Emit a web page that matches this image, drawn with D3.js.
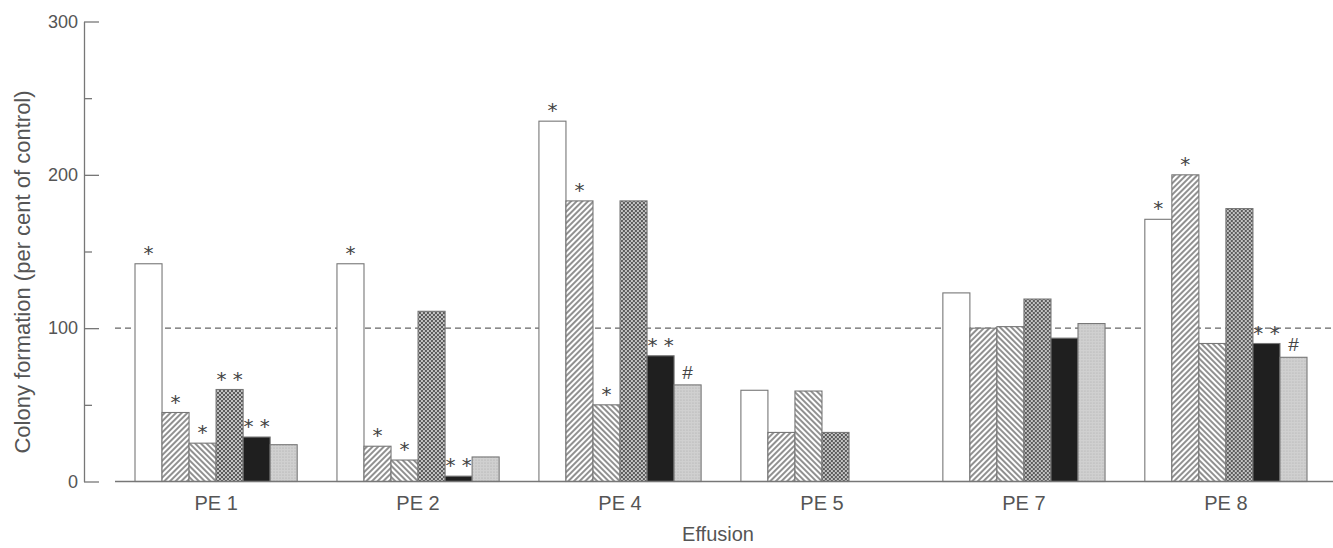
<!DOCTYPE html>
<html>
<head>
<meta charset="utf-8">
<script src="https://cdn.jsdelivr.net/npm/d3@7"></script>
<style>
  body { margin: 0; background: #fff; }
  svg { display: block; font-family: "Liberation Sans", Arial, sans-serif; }
</style>
</head>
<body>
<div id="chart"></div>
<script>
const width = 1333;
const height = 548;

// effusions along the x axis
const effusions = ["PE 1", "PE 2", "PE 4", "PE 5", "PE 7", "PE 8"];

// colony formation, per cent of control, one array per treatment (null = not tested)
const treatment1 = [142, 142, 235, 59.5, 123, 171];
const treatment2 = [45, 23, 183, 32, 100, 200];
const treatment3 = [25, 14, 50, 59, 101, 90];
const treatment4 = [60, 111, 183, 32, 119, 178];
const treatment5 = [29, 3.5, 82, null, 93.5, 90];
const treatment6 = [24, 16, 63, null, 103, 81];

// significance marks above the bars
const marks1 = ["*", "*", "*", "", "", "*"];
const marks2 = ["*", "*", "*", "", "", "*"];
const marks3 = ["*", "*", "*", "", "", ""];
const marks4 = ["**", "", "", "", "", ""];
const marks5 = ["**", "**", "**", "", "", "**"];
const marks6 = ["", "", "#", "", "", "#"];

const yTicks = [0, 100, 200, 300];
const yMinorTicks = [50, 150, 250];

const series = [
    { values: treatment1, marks: marks1, fill: "#fff" },
    { values: treatment2, marks: marks2, fill: "url(#hatchUp)" },
    { values: treatment3, marks: marks3, fill: "url(#hatchDown)" },
    { values: treatment4, marks: marks4, fill: "url(#dots)" },
    { values: treatment5, marks: marks5, fill: "#1f1f1f" },
    { values: treatment6, marks: marks6, fill: "url(#stipple)" }
];

const svg = d3.select("#chart").append("svg")
    .attr("width", width)
    .attr("height", height);

// fill patterns
const defs = svg.append("defs");

function hatch(id, angle) {
    defs.append("pattern")
        .attr("id", id)
        .attr("patternUnits", "userSpaceOnUse")
        .attr("width", 4).attr("height", 4)
        .attr("patternTransform", `rotate(${angle})`)
        .call(p => {
            p.append("rect").attr("width", 4).attr("height", 4).attr("fill", "#fff");
            p.append("line").attr("x1", 1).attr("y1", 0).attr("x2", 1).attr("y2", 4)
                .attr("stroke", "#555").attr("stroke-width", 1.3);
        });
}
hatch("hatchUp", 45);
hatch("hatchDown", -45);

defs.append("pattern")
    .attr("id", "dots")
    .attr("patternUnits", "userSpaceOnUse")
    .attr("width", 4).attr("height", 4)
    .call(p => {
        p.append("rect").attr("width", 4).attr("height", 4).attr("fill", "#5c5c5c");
        p.append("circle").attr("cx", 1).attr("cy", 1).attr("r", 0.95).attr("fill", "#eee");
        p.append("circle").attr("cx", 3).attr("cy", 3).attr("r", 0.95).attr("fill", "#eee");
    });

defs.append("pattern")
    .attr("id", "stipple")
    .attr("patternUnits", "userSpaceOnUse")
    .attr("width", 3).attr("height", 3)
    .call(p => {
        p.append("rect").attr("width", 3).attr("height", 3).attr("fill", "#d0d0d0");
        p.append("circle").attr("cx", 1).attr("cy", 1).attr("r", 0.6).attr("fill", "#a8a8a8");
    });

const x = d3.scaleBand()
    .domain(effusions)
    .range([135, 1307])
    .paddingInner(0.197);

const xInner = d3.scaleBand()
    .domain(d3.range(series.length))
    .range([0, x.bandwidth()]);

const y = d3.scaleLinear()
    .domain([0, 300])
    .range([481.5, 21.5]);

const axisColor = "#777";
const textColor = "#555";

// y axis with inward ticks
const yAxis = svg.append("g")
    .attr("transform", "translate(84,0)")
    .call(d3.axisLeft(y).tickValues(yTicks).tickSizeInner(-15).tickSizeOuter(0).tickPadding(6));
yAxis.select(".domain").attr("stroke", axisColor).attr("stroke-width", 1.3);
yAxis.selectAll(".tick line").attr("stroke", axisColor).attr("stroke-width", 1.3);
yAxis.selectAll(".tick text")
    .attr("fill", textColor)
    .style("font-size", "18px")
    .style("font-family", "Liberation Sans, Arial, sans-serif");

const yMinor = svg.append("g")
    .attr("transform", "translate(84,0)")
    .call(d3.axisLeft(y).tickValues(yMinorTicks).tickSizeInner(-8).tickSizeOuter(0).tickFormat(""));
yMinor.select(".domain").remove();
yMinor.selectAll(".tick line").attr("stroke", axisColor).attr("stroke-width", 1.3);

// control level
svg.append("line")
    .attr("x1", 115).attr("x2", width)
    .attr("y1", y(100)).attr("y2", y(100))
    .attr("stroke", "#666")
    .attr("stroke-width", 1.2)
    .attr("stroke-dasharray", "6,4");

// bars
const groups = svg.selectAll(".group")
    .data(effusions)
    .enter()
    .append("g")
    .attr("class", "group")
    .attr("transform", d => `translate(${x(d)},0)`);

groups.each(function(eff, gi) {
    const g = d3.select(this);
    series.forEach((s, si) => {
        const v = s.values[gi];
        if (v == null) return;
        g.append("rect")
            .attr("x", xInner(si))
            .attr("y", y(v))
            .attr("width", xInner.bandwidth())
            .attr("height", y(0) - y(v))
            .attr("fill", s.fill)
            .attr("stroke", "#777")
            .attr("stroke-width", 1.1);
        const m = s.marks[gi];
        if (m) {
            g.append("text")
                .attr("x", xInner(si) + xInner.bandwidth() / 2)
                .attr("y", y(v) - (m === "#" ? 6 : 4))
                .attr("text-anchor", "middle")
                .attr("fill", "#444")
                .style("font-family", m === "#" ? "Liberation Sans, Arial, sans-serif" : "DejaVu Sans, sans-serif")
                .style("font-size", m === "#" ? "19px" : "20px")
                .text(m === "**" ? "* *" : m);
        }
    });
});

// baseline
svg.append("line")
    .attr("x1", 115).attr("x2", width)
    .attr("y1", y(0)).attr("y2", y(0))
    .attr("stroke", axisColor)
    .attr("stroke-width", 1.3);

// x labels
svg.selectAll(".xlabel")
    .data(effusions)
    .enter()
    .append("text")
    .attr("class", "xlabel")
    .attr("x", d => x(d) + x.bandwidth() / 2)
    .attr("y", 510)
    .attr("text-anchor", "middle")
    .attr("fill", textColor)
    .style("font-size", "20px")
    .text(d => d);

svg.append("text")
    .attr("x", 718)
    .attr("y", 541)
    .attr("text-anchor", "middle")
    .attr("fill", textColor)
    .style("font-size", "20px")
    .text("Effusion");

svg.append("text")
    .attr("transform", "translate(30,272) rotate(-90)")
    .attr("text-anchor", "middle")
    .attr("fill", textColor)
    .style("font-size", "22px")
    .text("Colony formation (per cent of control)");
</script>
</body>
</html>
